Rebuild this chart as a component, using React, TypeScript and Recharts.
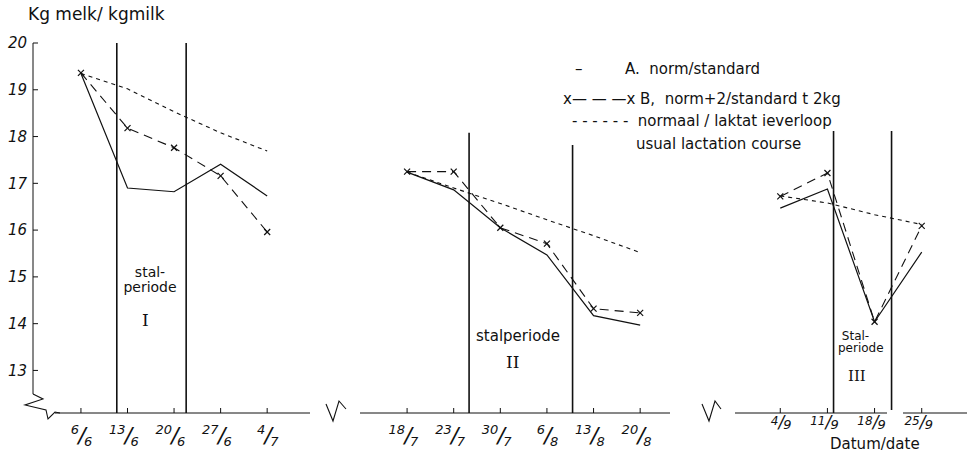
import React from "react";
import { LineChart, Line, XAxis, YAxis, ReferenceLine } from "recharts";

const yTicks = [13, 14, 15, 16, 17, 18, 19, 20];

// periode I
const dates1 = ["6/6", "13/6", "20/6", "27/6", "4/7"];
const normA1 = [19.35, 16.9, 16.82, 17.41, 16.73];
const normB1 = [19.36, 18.18, 17.76, 17.16, 15.96];
const usual1 = [19.35, 19.02, 18.53, 18.08, 17.69];

// periode II
const dates2 = ["18/7", "23/7", "30/7", "6/8", "13/8", "20/8"];
const normA2 = [17.24, 16.86, 16.05, 15.47, 14.17, 13.97];
const normB2 = [17.25, 17.25, 16.05, 15.71, 14.32, 14.23];
const usual2 = [17.24, 16.9, 16.57, 16.22, 15.88, 15.52];

// periode III
const dates3 = ["4/9", "11/9", "18/9", "25/9"];
const normA3 = [16.47, 16.88, 14.04, 15.53];
const normB3 = [16.72, 17.22, 14.04, 16.09];
const usual3 = [16.73, 16.58, 16.33, 16.12];

// stalperiode boundaries (date index) and how high each line is drawn
const stal1 = [0.77, 2.26];
const stalTop1 = [20, 20];
const stal2 = [1.33, 3.55];
const stalTop2 = [18.08, 17.82];
const stal3 = [1.13, 2.36];
const stalTop3 = [18.12, 18.12];

const Y_MIN = 12.09;
const INK = "#111";
const FONT = "'DejaVu Sans', 'Noto Sans', sans-serif";

// hand-written fraction style date labels; "compact" is the smaller style of panel III
function FracTick(props: any) {
  const { x, y, payload, labels, compact } = props;
  const [num, den] = String(labels[payload.value] ?? "").split("/");
  const f = compact
    ? { n: 12, s: 17, ny: 12, sy: 15, dy: 16, fd: 13 }
    : { n: 13, s: 22, ny: 21, sy: 30, dy: 33, fd: 13 };
  return (
    <g transform={`translate(${x},${y})`} fill={INK} fontFamily={FONT} fontStyle="italic">
      <text x={-2} y={f.ny} textAnchor="end" fontSize={f.n}>
        {num}
      </text>
      <text x={1} y={f.sy} textAnchor="middle" fontSize={f.s} fontWeight={300}>
        /
      </text>
      <text x={3} y={f.dy} textAnchor="start" fontSize={f.fd}>
        {den}
      </text>
    </g>
  );
}

function CrossDot(props: any) {
  const { cx, cy } = props;
  if (cx == null || cy == null) return null;
  const s = 3;
  return (
    <g stroke={INK} strokeWidth={1.2}>
      <line x1={cx - s} y1={cy - s} x2={cx + s} y2={cy + s} />
      <line x1={cx - s} y1={cy + s} x2={cx + s} y2={cy - s} />
    </g>
  );
}

interface PanelProps {
  dates: string[];
  a: number[];
  b: number[];
  n: number[];
  left: number;
  width: number;
  domain: [number, number];
  stal: number[];
  stalTop: number[];
  showY?: boolean;
  compact?: boolean;
}

function Panel({ dates, a, b, n, left, width, domain, stal, stalTop, showY, compact }: PanelProps) {
  const data = dates.map((d, i) => ({ i, date: d, a: a[i], b: b[i], n: n[i] }));
  return (
    <div style={{ position: "absolute", left, top: 0 }}>
      <LineChart
        width={width}
        height={465}
        data={data}
        margin={{ top: 43, right: 0, bottom: 0, left: 0 }}
      >
        <XAxis
          type="number"
          dataKey="i"
          domain={domain}
          allowDataOverflow
          ticks={dates.map((_, i) => i)}
          interval={0}
          height={52}
          tickSize={-5}
          tickMargin={5}
          stroke={INK}
          tick={<FracTick labels={dates} compact={compact} />}
        />
        <YAxis
          hide={!showY}
          domain={[Y_MIN, 20]}
          allowDataOverflow
          ticks={yTicks}
          interval={0}
          width={33}
          tickSize={-5}
          tickMargin={11}
          stroke={INK}
          tick={{ fill: INK, fontSize: 15, fontStyle: "italic", fontFamily: FONT }}
        />
        {stal.map((x, k) => (
          <ReferenceLine
            key={k}
            segment={[
              { x, y: stalTop[k] },
              { x, y: Y_MIN },
            ]}
            stroke={INK}
            strokeWidth={1.6}
          />
        ))}
        <Line
          dataKey="n"
          stroke={INK}
          strokeWidth={1.1}
          strokeDasharray="4 4"
          dot={false}
          isAnimationActive={false}
        />
        <Line
          dataKey="b"
          stroke={INK}
          strokeWidth={1.1}
          strokeDasharray="9 6"
          dot={<CrossDot />}
          isAnimationActive={false}
        />
        <Line
          dataKey="a"
          stroke={INK}
          strokeWidth={1.2}
          dot={false}
          isAnimationActive={false}
        />
      </LineChart>
    </div>
  );
}

const txt = (left: number, top: number, size = 14, extra: React.CSSProperties = {}) =>
  ({
    position: "absolute",
    left,
    top,
    fontSize: size,
    fontFamily: FONT,
    color: INK,
    whiteSpace: "pre",
    lineHeight: 1,
    ...extra,
  }) as React.CSSProperties;

export default function App() {
  return (
    <div
      style={{
        position: "absolute",
        left: 0,
        top: 0,
        width: 967,
        height: 465,
        background: "#fff",
        overflow: "hidden",
      }}
    >
      <Panel
        dates={dates1}
        a={normA1}
        b={normB1}
        n={usual1}
        left={0}
        width={310}
        domain={[-1.03, 4.92]}
        stal={stal1}
        stalTop={stalTop1}
        showY
      />
      <Panel
        dates={dates2}
        a={normA2}
        b={normB2}
        n={usual2}
        left={360}
        width={310}
        domain={[-1.01, 5.64]}
        stal={stal2}
        stalTop={stalTop2}
      />
      <Panel
        dates={dates3}
        a={normA3}
        b={normB3}
        n={usual3}
        left={735}
        width={232}
        domain={[-0.96, 3.96]}
        stal={stal3}
        stalTop={stalTop3}
        compact
      />

      {/* axis breaks */}
      <svg
        width={967}
        height={465}
        style={{ position: "absolute", left: 0, top: 0, pointerEvents: "none" }}
      >
        <rect x={29} y={394} width={26} height={22} fill="#fff" />
        <polyline
          points="33,394 43,399 25,405 46,410 48,419 55,412 60,413"
          fill="none"
          stroke={INK}
          strokeWidth={1.1}
        />
        <polyline points="326,404 333,421 339,401 346,409" fill="none" stroke={INK} strokeWidth={1.1} />
        <polyline points="702,404 709,421 715,401 721,409" fill="none" stroke={INK} strokeWidth={1.1} />
        <rect x={887} y={410} width={16} height={6} fill="#fff" />
      </svg>

      <div style={txt(28, 6, 17)}>Kg melk/ kgmilk</div>

      <div style={txt(575, 62, 15)}>–</div>
      <div style={txt(625, 62, 15)}>A.  norm/standard</div>
      <div style={txt(563, 92, 15)}>x— — —x B,  norm+2/standard t 2kg</div>
      <div style={txt(572, 114, 15)}>- - - - - -  normaal / laktat ieverloop</div>
      <div style={txt(636, 137, 15)}>usual lactation course</div>

      <div style={txt(122, 265, 14, { textAlign: "center", width: 56, lineHeight: "15px" })}>
        {"stal-\nperiode"}
      </div>
      <div style={txt(142, 312, 17, { fontFamily: "'DejaVu Serif', serif" })}>I</div>

      <div style={txt(476, 329, 15)}>stalperiode</div>
      <div style={txt(506, 354, 17, { fontFamily: "'DejaVu Serif', serif" })}>II</div>

      <div style={txt(838, 330, 12, { lineHeight: "12px" })}>{" Stal-\nperiode"}</div>
      <div style={txt(848, 369, 15, { fontFamily: "'DejaVu Serif', serif" })}>III</div>

      <div style={txt(830, 437, 15)}>Datum/date</div>
    </div>
  );
}
